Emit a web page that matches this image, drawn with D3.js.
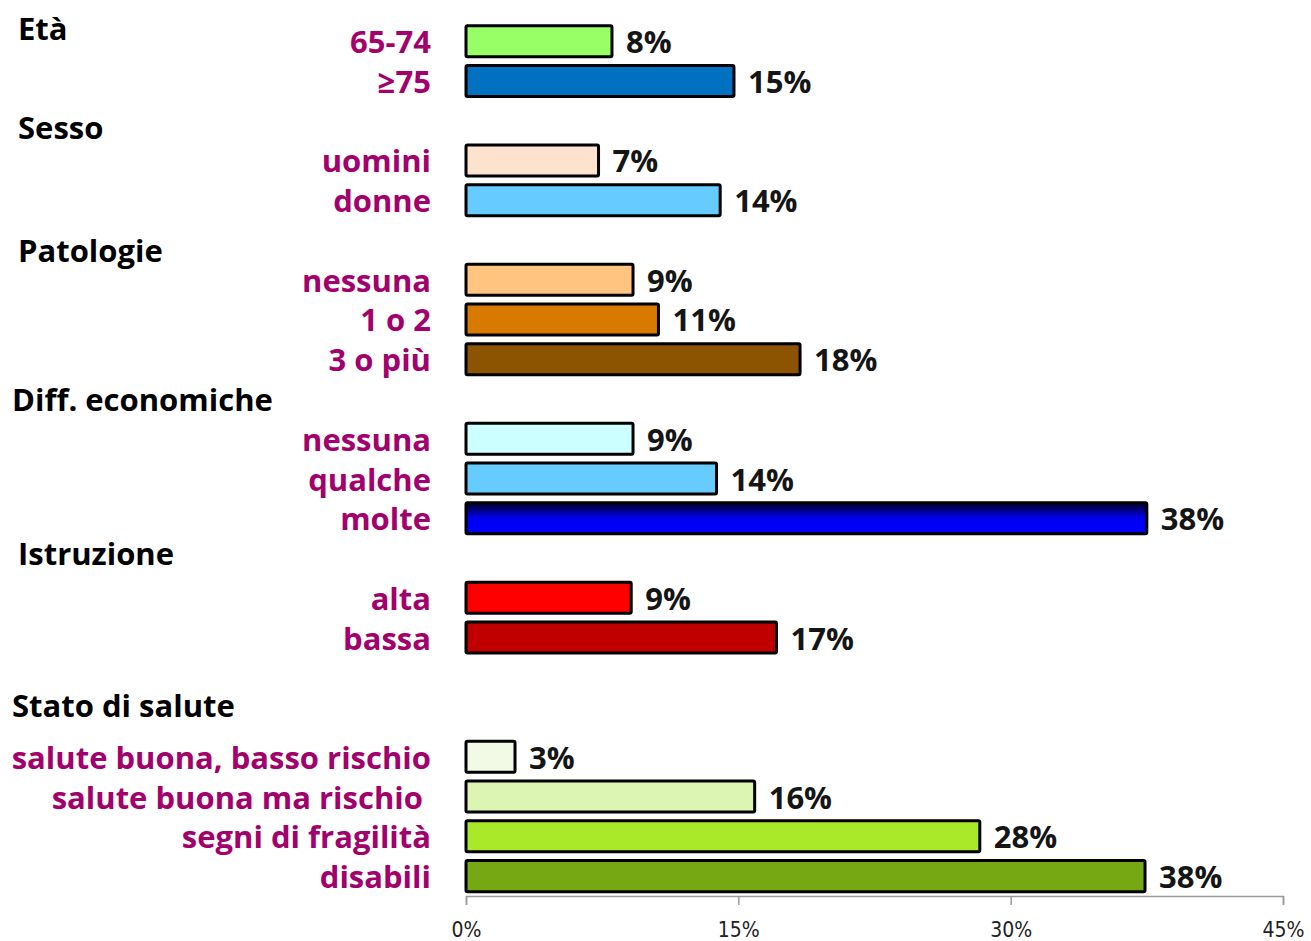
<!DOCTYPE html>
<html>
<head>
<meta charset="utf-8">
<script src="https://cdn.jsdelivr.net/npm/d3@7"></script>
<style>
  body { margin: 0; background: #fff; }
  svg text { font-family: "Open Sans", "Noto Sans", sans-serif; }
</style>
</head>
<body>
<div id="chart"></div>
<script>
// rows, top to bottom; empty label = spacer row where a group title sits
var rowLabels = ["", "65-74", "≥75", "", "uomini", "donne", "", "nessuna", "1 o 2", "3 o più",
  "", "nessuna", "qualche", "molte", "", "alta", "bassa", "", "",
  "salute buona, basso rischio", "salute buona ma rischio ", "segni di fragilità", "disabili"];
var rowValues = [null, 8, 15, null, 7, 14, null, 9, 11, 18, null, 9, 14, 38, null, 9, 17, null, null, 3, 16, 28, 38];
var rowShown = [null, 8.04, 14.76, null, 7.3, 14.0, null, 9.2, 10.6, 18.4, null, 9.2, 13.8, 37.5, null, 9.1, 17.1, null, null, 2.7, 15.9, 28.3, 37.4];
var rowColors = [null, "#99ff66", "#0070c0", null, "#fde2ce", "#66ccff", null, "#ffc580", "#d97a00", "#8c5400",
  null, "#ccffff", "#66ccff", "url(#molteGrad)", null, "#ff0000", "#c00000", null, null,
  "#f2fae6", "#ddf5b3", "#aae82a", "#76a814"];
var groupTitles = ["Età", "Sesso", "Patologie", "Diff. economiche", "Istruzione", "Stato di salute"];
var groupRows = [0, 3, 6, 10, 14, 18];
var tickValues = [0, 15, 30, 45];

var width = 1311, height = 941;
var x0 = 466, x1 = 1283;

var svg = d3.select("#chart").append("svg")
  .attr("width", width)
  .attr("height", height);

var defs = svg.append("defs");
var grad = defs.append("linearGradient")
  .attr("id", "molteGrad")
  .attr("x1", 0).attr("y1", 0).attr("x2", 0).attr("y2", 1);
grad.append("stop").attr("offset", "0%").attr("stop-color", "#000022");
grad.append("stop").attr("offset", "50%").attr("stop-color", "#0000f0");
grad.append("stop").attr("offset", "100%").attr("stop-color", "#0000ff");

var x = d3.scaleLinear().domain([0, 45]).range([x0, x1]);
var y = d3.scaleBand()
  .domain(d3.range(rowLabels.length))
  .range([-18.5, 896])
  .paddingInner(0.22)
  .paddingOuter(0.11);

var rows = rowLabels.map(function(d, i) {
  return {label: d, value: rowValues[i], shown: rowShown[i], color: rowColors[i], i: i};
});
var bars = rows.filter(function(d) { return d.value !== null; });

// bars
svg.append("g").selectAll("rect")
  .data(bars)
  .enter()
  .append("rect")
  .attr("x", x(0))
  .attr("y", function(d) { return y(d.i); })
  .attr("width", function(d) { return x(d.shown) - x(0); })
  .attr("height", y.bandwidth())
  .attr("rx", 1.5)
  .attr("fill", function(d) { return d.color; })
  .attr("stroke", "#000")
  .attr("stroke-width", 3);

// value labels
svg.append("g").selectAll("text")
  .data(bars)
  .enter()
  .append("text")
  .attr("x", function(d) { return x(d.shown) + 14; })
  .attr("y", function(d) { return y(d.i) + y.bandwidth() / 2 + 12; })
  .attr("fill", "#151515")
  .style("font-size", "31px")
  .style("font-weight", "bold")
  .text(function(d) { return d.value + "%"; });

// category labels
svg.append("g").selectAll("text")
  .data(bars)
  .enter()
  .append("text")
  .attr("x", 431)
  .attr("y", function(d) { return y(d.i) + y.bandwidth() / 2 + 12; })
  .attr("text-anchor", "end")
  .attr("fill", "#a2006c")
  .style("font-size", "31px")
  .style("font-weight", "bold")
  .style("white-space", "pre")
  .text(function(d) { return d.label; });

// group titles, baseline offsets from the spacer row centre as in the original
var titleNudge = [39, 18, 22, 12, 7, 0];
var titleX = [18, 18, 18, 12, 18, 12];
svg.append("g").selectAll("text")
  .data(groupTitles)
  .enter()
  .append("text")
  .attr("x", function(d, i) { return titleX[i]; })
  .attr("y", function(d, i) { return y(groupRows[i]) + y.bandwidth() / 2 + titleNudge[i]; })
  .attr("fill", "#000")
  .style("font-size", "31px")
  .style("font-weight", "bold")
  .text(function(d) { return d; });

// x axis
var axis = svg.append("g")
  .attr("transform", "translate(0,896)")
  .call(d3.axisBottom(x).tickValues(tickValues).tickSize(9).tickPadding(17)
    .tickFormat(function(d) { return d + "%"; }));
axis.select(".domain").attr("stroke", "#999").attr("stroke-width", 1.5);
axis.selectAll(".tick line").attr("stroke", "#999").attr("stroke-width", 1.5);
axis.selectAll(".tick text")
  .attr("fill", "#222")
  .style("font-family", "'DejaVu Sans Condensed', 'DejaVu Sans', sans-serif")
  .style("font-size", "21px");
</script>
</body>
</html>
